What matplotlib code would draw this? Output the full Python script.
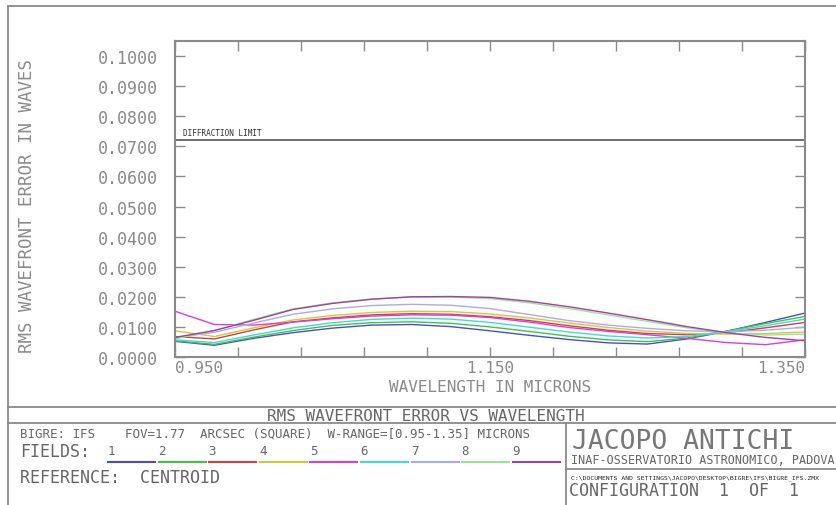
import matplotlib
matplotlib.use("Agg")
import matplotlib.pyplot as plt
from matplotlib.lines import Line2D

plt.rcParams['font.family'] = ['DejaVu Sans Mono']

# wavelength samples (microns)
wavelength = [0.950, 0.975, 1.000, 1.025, 1.050, 1.075, 1.100, 1.125, 1.150,
              1.175, 1.200, 1.225, 1.250, 1.275, 1.300, 1.325, 1.350]

# rms wavefront error (waves) for the 9 fields
field1 = [0.0052, 0.0039, 0.0062, 0.0081, 0.0096, 0.0106, 0.0108, 0.0101, 0.0087,
          0.0072, 0.0058, 0.0047, 0.0043, 0.0060, 0.0085, 0.0115, 0.0146]
field2 = [0.0054, 0.0042, 0.0066, 0.0088, 0.0105, 0.0114, 0.0117, 0.0112, 0.0100,
          0.0085, 0.0069, 0.0057, 0.0051, 0.0063, 0.0086, 0.0111, 0.0135]
field3 = [0.0068, 0.0060, 0.0090, 0.0117, 0.0130, 0.0140, 0.0144, 0.0142, 0.0134,
          0.0121, 0.0104, 0.0089, 0.0078, 0.0074, 0.0081, 0.0097, 0.0115]
field4 = [0.0087, 0.0068, 0.0097, 0.0123, 0.0138, 0.0148, 0.0152, 0.0151, 0.0143,
          0.0130, 0.0113, 0.0098, 0.0086, 0.0078, 0.0076, 0.0078, 0.0083]
field5 = [0.0152, 0.0108, 0.0106, 0.0116, 0.0127, 0.0136, 0.0140, 0.0139, 0.0131,
          0.0116, 0.0098, 0.0085, 0.0074, 0.0062, 0.0048, 0.0041, 0.0057]
field6 = [0.0057, 0.0048, 0.0073, 0.0097, 0.0114, 0.0125, 0.0129, 0.0126, 0.0115,
          0.0099, 0.0083, 0.0070, 0.0063, 0.0068, 0.0084, 0.0104, 0.0126]
field7 = [0.0064, 0.0082, 0.0113, 0.0142, 0.0160, 0.0171, 0.0175, 0.0172, 0.0161,
          0.0141, 0.0121, 0.0106, 0.0095, 0.0087, 0.0084, 0.0089, 0.0099]
field8 = [0.0060, 0.0088, 0.0125, 0.0160, 0.0180, 0.0193, 0.0199, 0.0199, 0.0194,
          0.0180, 0.0161, 0.0140, 0.0118, 0.0097, 0.0081, 0.0073, 0.0076]
field9 = [0.0065, 0.0088, 0.0122, 0.0158, 0.0178, 0.0192, 0.0200, 0.0201, 0.0198,
          0.0185, 0.0167, 0.0146, 0.0124, 0.0101, 0.0081, 0.0065, 0.0054]

fields = [field1, field2, field3, field4, field5, field6, field7, field8, field9]
field_names = ['1', '2', '3', '4', '5', '6', '7', '8', '9']
colors = ['#4b4bd2', '#3cc83c', '#dc3c3c', '#d2c83c', '#dc3cdc',
          '#3cdcdc', '#aaaaf0', '#96e696', '#a040a0']

diffraction_limit = 0.072

y_ticks = [0.0, 0.01, 0.02, 0.03, 0.04, 0.05, 0.06, 0.07, 0.08, 0.09, 0.10]
x_ticks = [0.95, 0.99, 1.03, 1.07, 1.11, 1.15, 1.19, 1.23, 1.27, 1.31, 1.35]
x_labels = ['0.950', '', '', '', '', '1.150', '', '', '', '', '1.350']

W, H = 837, 506
gray = '#8a8a8a'
dark = '#666666'
big = 12


def fx(x):
    return x / W


def fy(y):
    return 1 - y / H


fig = plt.figure(figsize=(W / 100, H / 100), dpi=100)

ax = fig.add_axes([fx(175), fy(358), 630 / W, 316 / H])
for c, f in zip(colors, fields):
    ax.plot(wavelength, f, color=c, lw=1.0)

ax.axhline(diffraction_limit, color='#555555', lw=1.2)
ax.text(0.955, diffraction_limit + 0.0012, 'DIFFRACTION LIMIT', fontsize=5.5,
        color='#333333', va='bottom', ha='left')

ax.set_xlim(0.95, 1.35)
ax.set_ylim(0, 0.105)
ax.set_yticks(y_ticks)
ax.set_yticklabels(['%.4f' % v for v in y_ticks])
ax.set_xticks(x_ticks)
ax.set_xticklabels(x_labels)
xl = ax.get_xticklabels()
xl[0].set_ha('left')
xl[-1].set_ha('right')
ax.tick_params(direction='in', length=7, width=1, color=gray,
               top=True, right=True, labelsize=big, labelcolor=gray)
ax.tick_params(axis='y', pad=12)
ax.tick_params(axis='x', pad=2, labelsize=11.5)
for s in ax.spines.values():
    s.set_color(gray)
    s.set_linewidth(1.5)

fig.text(fx(490), fy(387), 'WAVELENGTH IN MICRONS', fontsize=11.5, color=gray,
         ha='center', va='center')
fig.text(fx(27), fy(206), 'RMS WAVEFRONT ERROR IN WAVES', fontsize=12.5, color=gray,
         ha='center', va='center', rotation=90)


def hline(y, x0, x1):
    fig.add_artist(Line2D([fx(x0), fx(x1)], [fy(y), fy(y)], color=gray, lw=1.3))


def vline(x, y0, y1):
    fig.add_artist(Line2D([fx(x), fx(x)], [fy(y0), fy(y1)], color=gray, lw=1.3))


# outer frame and info block
hline(7, 8, W)
vline(8, 7, H)
hline(408, 8, W)
hline(424, 8, W)
vline(566, 424, H)
hline(470, 566, W)

fig.text(fx(426), fy(416.5), 'RMS WAVEFRONT ERROR VS WAVELENGTH', fontsize=11.5,
         color=dark, ha='center', va='center')
fig.text(fx(20), fy(434), 'BIGRE: IFS    FOV=1.77  ARCSEC (SQUARE)  W-RANGE=[0.95-1.35] MICRONS',
         fontsize=9, color=dark, ha='left', va='center')
fig.text(fx(20), fy(452), 'FIELDS:', fontsize=big, color=dark, ha='left', va='center')
for i, (name, c) in enumerate(zip(field_names, colors)):
    x0 = 108 + 50.6 * i
    fig.text(fx(x0 + 3), fy(452), name, fontsize=9, color=dark, ha='center', va='center')
    fig.add_artist(Line2D([fx(x0), fx(x0 + 47)], [fy(463), fy(463)], color=c, lw=1.5))
fig.text(fx(20), fy(478), 'REFERENCE:  CENTROID', fontsize=big, color=dark,
         ha='left', va='center')

fig.text(fx(572), fy(442), 'JACOPO ANTICHI', fontsize=19, color='#777777',
         ha='left', va='center')
fig.text(fx(571), fy(461), 'INAF-OSSERVATORIO ASTRONOMICO, PADOVA', fontsize=8.5,
         color=dark, ha='left', va='center')
fig.text(fx(571), fy(478), 'C:\\DOCUMENTS AND SETTINGS\\JACOPO\\DESKTOP\\BIGRE\\IFS\\BIGRE_IFS.ZMX',
         fontsize=4.6, color='#222222', ha='left', va='center')
fig.text(fx(569), fy(491), 'CONFIGURATION  1  OF  1', fontsize=big, color=dark,
         ha='left', va='center')

fig.savefig('out.png', dpi=100, facecolor='white')
